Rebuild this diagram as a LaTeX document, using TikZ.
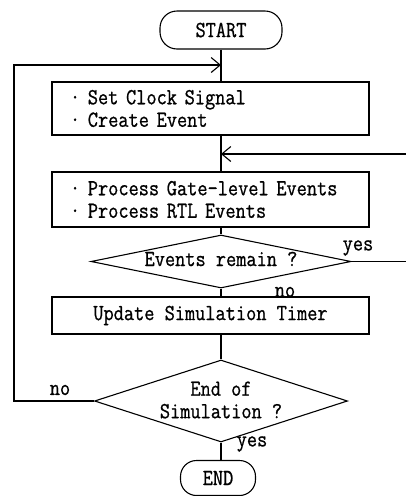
\documentclass[tikz,border=0pt]{standalone}
\usepackage{fontspec}
\setmonofont[FakeStretch=0.86,FakeBold=0.8]{Latin Modern Mono}
\usepackage{tikz}
\usetikzlibrary{arrows.meta,shapes.geometric}

\tikzset{
  flow/.style={line width=1.1pt, black},
  term/.style={draw, flow, rounded corners=17pt, minimum height=38pt, inner sep=0pt},
  proc/.style={draw, flow, minimum width=317pt, inner sep=0pt},
  cond/.style={draw, flow, diamond, inner sep=0pt},
  lbl/.style={inner sep=0pt, align=center},
  into/.style={-{Straight Barb[length=9pt,width=15pt,line width=1.1pt]}}
}

\begin{document}
\begin{tikzpicture}[x=1pt, y=-1pt, font=\ttfamily\fontsize{23pt}{22.5pt}\selectfont]
  \useasboundingbox (0,0) rectangle (405,496);
  \pgfmathsetmacro{\mainx}{221}

  % terminals and steps
  \node[term, minimum width=122pt] (start) at (\mainx,30) {START};
  \node[proc, minimum height=53pt, text width=281pt, align=left, inner xsep=18pt] (setclk) at (210.5,108.5)
    {· Set Clock Signal\\· Create Event};
  \node[proc, minimum height=55pt, text width=281pt, align=left, inner xsep=18pt] (procev) at (210.5,199.5)
    {· Process Gate-level Events\\· Process RTL Events};
  \node[cond, minimum width=260pt, minimum height=53pt] (remain) at (\mainx,261.5) {};
  \node[lbl] (remaintxt) at (\mainx,259) {Events remain ?};
  \node[proc, minimum height=37pt] (timer) at (210.5,315.5) {Update Simulation Timer};
  \node[cond, minimum width=253pt, minimum height=82pt] (endsim) at (\mainx,401) {};
  \node[lbl] (endsimtxt) at (\mainx,400) {End of\\Simulation ?};
  \node[term, minimum width=75pt, minimum height=35pt, rounded corners=16pt] (stop) at (218,478) {END};

  % join points on the main line
  \coordinate (joinA) at (\mainx,65);
  \coordinate (joinB) at (\mainx,154);

  % main line
  \draw[flow] (start.south) -- (joinA) -- (joinA |- setclk.north);
  \draw[flow] (joinA |- setclk.south) -- (joinB) -- (joinB |- procev.north);
  \draw[flow] (joinB |- procev.south) -- (remain.north);
  \draw[flow] (remain.south) -- (remain.south |- timer.north);
  \draw[flow] (remain.south |- timer.south) -- (endsim.north);
  \draw[flow] (endsim.south) -- (endsim.south |- stop.north);

  % loops
  \draw[flow, into] (endsim.west) -- ++(-80,0) |- (joinA);
  \draw[flow, into] (remain.east) -- (409,261.5) |- (joinB);

  % labels
  \node[lbl] (yesA) at (358,248) {yes};
  \node[lbl] (noA) at (285,292) {no};
  \node[lbl] (noB) at (60,390) {no};
  \node[lbl] (yesB) at (252,444) {yes};
\end{tikzpicture}
\end{document}
